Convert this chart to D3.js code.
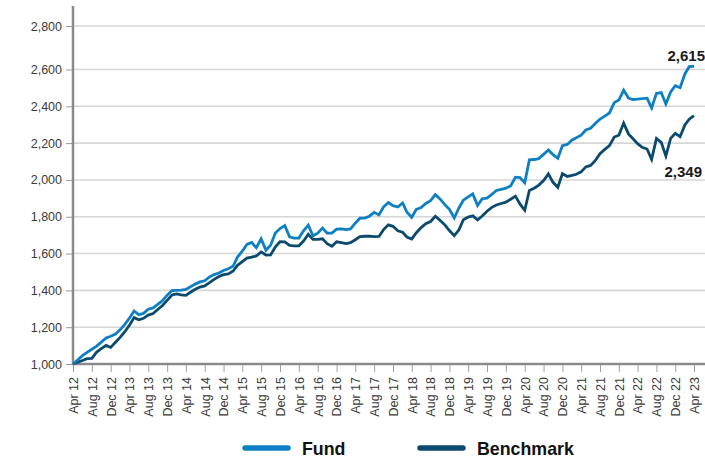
<!DOCTYPE html>
<html>
<head>
<meta charset="utf-8">
<script src="https://cdn.jsdelivr.net/npm/d3@7"></script>
<style>
  html, body { margin: 0; padding: 0; background: #ffffff; }
  svg { display: block; font-family: "Liberation Sans", Arial, Helvetica, sans-serif; }
</style>
</head>
<body>
<svg id="chart" width="705" height="457"></svg>
<script>
// ---- Data (monthly, Apr 2012 – Apr 2023) ----
const startMonth = "Apr 12";
const endMonth = "Apr 23";

const fundValues = [
  1000, 1022, 1045, 1063, 1080, 1097, 1119, 1142, 1151, 1163, 1187, 1214,
  1249, 1288, 1268, 1275, 1298, 1305, 1324, 1344, 1374, 1399, 1400, 1401,
  1405, 1420, 1434, 1446, 1452, 1473, 1486, 1494, 1508, 1517, 1532, 1581,
  1613, 1650, 1660, 1632, 1680, 1618, 1645, 1712, 1736, 1752, 1691, 1684,
  1684, 1724, 1755, 1697, 1711, 1739, 1711, 1711, 1733, 1734, 1730, 1734,
  1765, 1792, 1793, 1803, 1824, 1810, 1853, 1877, 1860, 1853, 1875, 1825,
  1797, 1840, 1850, 1872, 1887, 1920, 1897, 1866, 1840, 1793, 1849, 1890,
  1908, 1924, 1861, 1898, 1901, 1922, 1943, 1949, 1955, 1967, 2015, 2013,
  1985, 2109, 2111, 2116, 2139, 2163, 2137, 2118, 2186, 2193, 2217, 2229,
  2243, 2271, 2281, 2307, 2330, 2347, 2364, 2420, 2434, 2488, 2445, 2437,
  2439, 2442, 2444, 2391, 2470, 2475, 2413, 2478, 2512, 2501, 2576, 2613,
  2615
];

const benchmarkValues = [
  1000, 1010, 1019, 1029, 1031, 1065, 1083, 1101, 1090, 1118, 1146, 1174,
  1210, 1252, 1240, 1248, 1266, 1274, 1296, 1318, 1346, 1375, 1381, 1375,
  1373, 1390, 1406, 1418, 1424, 1442, 1460, 1475, 1485, 1489, 1505, 1536,
  1556, 1575, 1581, 1587, 1609, 1592, 1593, 1636, 1664, 1663, 1645, 1642,
  1642, 1668, 1705, 1677, 1677, 1680, 1654, 1640, 1664, 1660, 1654, 1659,
  1675, 1692, 1694, 1695, 1692, 1693, 1730, 1756, 1748, 1724, 1716, 1690,
  1679, 1713, 1741, 1762, 1774, 1803, 1781, 1756, 1725, 1697, 1729, 1784,
  1798, 1805, 1783, 1804, 1830, 1851, 1864, 1872, 1879, 1895, 1912, 1870,
  1835, 1943, 1955, 1972, 1997, 2033, 1987, 1960, 2035, 2019, 2025, 2031,
  2044, 2071, 2079, 2105, 2142, 2166, 2186, 2233, 2243, 2309, 2250, 2225,
  2197, 2177, 2168, 2112, 2225, 2204, 2130, 2226, 2253, 2235, 2299, 2330,
  2349
];

const yTickValues = [1000, 1200, 1400, 1600, 1800, 2000, 2200, 2400, 2600, 2800];

const xTickLabels = [
  "Apr 12", "Aug 12", "Dec 12", "Apr 13", "Aug 13", "Dec 13", "Apr 14", "Aug 14",
  "Dec 14", "Apr 15", "Aug 15", "Dec 15", "Apr 16", "Aug 16", "Dec 16", "Apr 17",
  "Aug 17", "Dec 17", "Apr 18", "Aug 18", "Dec 18", "Apr 19", "Aug 19", "Dec 19",
  "Apr 20", "Aug 20", "Dec 20", "Apr 21", "Aug 21", "Dec 21", "Apr 22", "Aug 22",
  "Dec 22", "Apr 23"
];

const seriesNames = ["Fund", "Benchmark"];
const endLabels = ["2,615", "2,349"];

// ---- Setup ----
const parseM = d3.timeParse("%b %y");
const fmtM = d3.timeFormat("%b %y");
const months = d3.timeMonth.range(parseM(startMonth), d3.timeMonth.offset(parseM(endMonth), 1));

const colors = { Fund: "#0d80c4", Benchmark: "#0b4a6d" };

const svg = d3.select("#chart");

const x = d3.scaleTime()
  .domain([parseM(startMonth), parseM(endMonth)])
  .range([73, 694]);

const y = d3.scaleLinear()
  .domain([1000, 2600, 2800])
  .range([364, 69.5, 26]);

// Gridlines
svg.append("g")
  .selectAll("line")
  .data(yTickValues.filter(v => v > 1000))
  .join("line")
  .attr("x1", 73).attr("x2", 705)
  .attr("y1", d => y(d)).attr("y2", d => y(d))
  .attr("stroke", "#d6d6d6")
  .attr("stroke-width", 1.6);

// Y axis
const yAxis = svg.append("g")
  .attr("transform", "translate(73,0)")
  .call(d3.axisLeft(y)
    .tickValues(yTickValues)
    .tickFormat(d3.format(","))
    .tickSize(7)
    .tickPadding(4));
yAxis.select(".domain").remove();
yAxis.selectAll(".tick line").attr("stroke", "#999").attr("stroke-width", 1);
yAxis.selectAll(".tick text")
  .attr("fill", "#3a3a3a")
  .style("font-size", "12.5px")
  .style("font-family", "Liberation Sans, Arial, sans-serif");

svg.append("line")
  .attr("x1", 73).attr("x2", 73)
  .attr("y1", 6).attr("y2", 365)
  .attr("stroke", "#8a8a8a")
  .attr("stroke-width", 2.5);

// X axis
const xAxis = svg.append("g")
  .attr("transform", "translate(0,364)")
  .call(d3.axisBottom(x)
    .tickValues(xTickLabels.map(parseM))
    .tickFormat(fmtM)
    .tickSize(8)
    .tickPadding(4));
xAxis.select(".domain").remove();
xAxis.selectAll(".tick line").attr("stroke", "#a0a0a0").attr("stroke-width", 1);
xAxis.selectAll(".tick text")
  .attr("fill", "#3a3a3a")
  .style("font-size", "12.5px")
  .style("font-family", "Liberation Sans, Arial, sans-serif")
  .attr("transform", "rotate(-90)")
  .attr("text-anchor", "end")
  .attr("x", -13)
  .attr("y", 0)
  .attr("dy", "0.35em");

svg.append("line")
  .attr("x1", 72).attr("x2", 705)
  .attr("y1", 364).attr("y2", 364)
  .attr("stroke", "#8a8a8a")
  .attr("stroke-width", 2.5);

// Lines
const line = d3.line()
  .x(d => x(d.date))
  .y(d => y(d.value));

const series = [
  { name: "Benchmark", values: benchmarkValues },
  { name: "Fund", values: fundValues }
];

series.forEach(s => {
  svg.append("path")
    .datum(s.values.map((v, i) => ({ date: months[i], value: v })))
    .attr("fill", "none")
    .attr("stroke", colors[s.name])
    .attr("stroke-width", 2.8)
    .attr("stroke-linejoin", "miter")
    .attr("d", line);
});

// End labels
svg.append("text")
  .attr("x", 705).attr("y", 61)
  .attr("text-anchor", "end")
  .attr("fill", "#1a1a1a")
  .style("font-size", "15px").style("font-weight", "bold")
  .text(endLabels[0]);

svg.append("text")
  .attr("x", 702).attr("y", 177)
  .attr("text-anchor", "end")
  .attr("fill", "#1a1a1a")
  .style("font-size", "15px").style("font-weight", "bold")
  .text(endLabels[1]);

// Legend
const legendItems = [
  { name: seriesNames[0], x1: 245, x2: 288, tx: 302 },
  { name: seriesNames[1], x1: 420, x2: 463, tx: 477 }
];
const lg = svg.append("g");
legendItems.forEach(it => {
  lg.append("line")
    .attr("x1", it.x1).attr("x2", it.x2)
    .attr("y1", 448).attr("y2", 448)
    .attr("stroke", colors[it.name])
    .attr("stroke-width", 5.5)
    .attr("stroke-linecap", "round");
  lg.append("text")
    .attr("x", it.tx).attr("y", 454.5)
    .attr("fill", "#111")
    .style("font-size", "17.8px").style("font-weight", "bold")
    .text(it.name);
});
</script>
</body>
</html>
